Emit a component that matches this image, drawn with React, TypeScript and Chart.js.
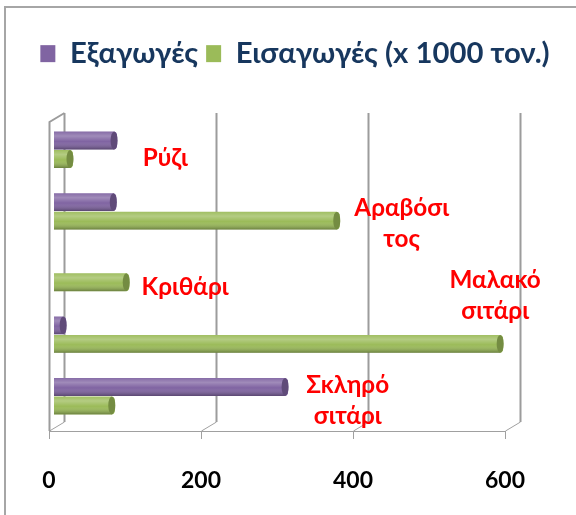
import React, { useEffect, useRef } from "react";
import { Chart, registerables } from "chart.js";

Chart.register(...registerables);

// ---- data ----
const categories = ["Ρύζι", "Αραβόσιτος", "Κριθάρι", "Μαλακό σιτάρι", "Σκληρό σιτάρι"];
const exportsK = [83, 82, 0, 16, 308];
const importsK = [25, 376, 99, 591, 80];
const seriesNames = ["Εξαγωγές", "Εισαγωγές (x 1000 τον.)"];
const xTicks = [0, 200, 400, 600];
// in-plot category captions (text lines), anchored in data space
const captionLines = [["Ρύζι"], ["Αραβόσι", "τος"], ["Κριθάρι"], ["Μαλακό", "σιτάρι"], ["Σκληρό", "σιτάρι"]];
const captionX = [153, 464, 179, 587, 393];
const captionDY = [0.13, 0.2, 0.23, -0.63, 0.07];

const FAMILY = "Lato, 'Open Sans', 'Noto Sans', sans-serif";
const PURPLE = "#8064A2";
const GREEN = "#9BBB59";

function fitSize(text: string, target: number) {
  const c = document.createElement("canvas").getContext("2d")!;
  c.font = `bold 100px ${FAMILY}`;
  return (100 * target) / c.measureText(text).width;
}

export default function App() {
  const ref = useRef<HTMLCanvasElement>(null);

  useEffect(() => {
    document.body.style.margin = "0";
    const legendSize = fitSize(seriesNames[1], 314);
    const tickSize = fitSize("200", 40);
    const capSize = fitSize("Κριθάρι", 87);

    const DX = 15;
    const DY = -9;
    const DEPTH_SHIFT = 5; // bars sit inside the 3D depth

    const frame = {
      id: "frame",
      beforeInit(chart: any) {
        const lg = chart.legend;
        if (lg && !lg.__patched) {
          const orig = lg.fit;
          lg.fit = function () {
            this.maxWidth = 576;
            orig.call(this);
            this.height = 88;
          };
          lg.__patched = true;
        }
      },
      afterLayout(chart: any) {
        const lg = chart.legend;
        if (lg) {
          lg.left = 14;
          lg.right = 576;
          lg.width = 562;
        }
      },
      beforeDraw(chart: any) {
        const ctx = chart.ctx;
        ctx.save();
        ctx.strokeStyle = "#a6a6a6";
        ctx.lineWidth = 2;
        ctx.beginPath();
        ctx.moveTo(5, 515);
        ctx.lineTo(5, 7);
        ctx.lineTo(576, 7);
        ctx.stroke();
        ctx.restore();
      },
      beforeDatasetsDraw(chart: any) {
        const ctx = chart.ctx;
        const xs = chart.scales.x;
        const area = chart.chartArea;
        const floorY = area.bottom + 4;
        const backTop = area.top - 6;
        ctx.save();
        ctx.strokeStyle = "#a0a0a0";
        ctx.lineWidth = 1;
        const x0 = xs.getPixelForValue(xTicks[0]);
        const xN = xs.getPixelForValue(xTicks[xTicks.length - 1]);
        ctx.beginPath();
        ctx.moveTo(x0, floorY + 0.5);
        ctx.lineTo(xN, floorY + 0.5);
        ctx.stroke();
        xTicks.forEach((v) => {
          const px = Math.round(xs.getPixelForValue(v)) + 0.5;
          ctx.lineWidth = 1;
          ctx.strokeStyle = "#a0a0a0";
          ctx.beginPath();
          ctx.moveTo(px, floorY);
          ctx.lineTo(px, floorY + 8);
          ctx.moveTo(px, floorY);
          ctx.lineTo(px + DX, floorY + DY);
          ctx.stroke();
          ctx.lineWidth = 2;
          ctx.strokeStyle = "#9c9c9c";
          ctx.beginPath();
          ctx.moveTo(px + DX, floorY + DY);
          ctx.lineTo(px + DX, backTop);
          ctx.stroke();
          if (v === xTicks[0]) {
            ctx.beginPath();
            ctx.moveTo(px, floorY);
            ctx.lineTo(px, backTop - DY);
            ctx.lineTo(px + DX, backTop);
            ctx.stroke();
          }
        });
        ctx.restore();
        // shift bars into the depth of the 3D box
        ctx.save();
        ctx.translate(DEPTH_SHIFT, 0);
      },
      afterDatasetsDraw(chart: any) {
        const ctx = chart.ctx;
        chart.data.datasets.forEach((ds: any, di: number) => {
          const meta = chart.getDatasetMeta(di);
          meta.data.forEach((el: any) => {
            const { x, y, base, height } = el.getProps(["x", "y", "base", "height"], true);
            if (Math.abs(x - base) < 1) return;
            const top = y - height / 2;
            const g = ctx.createLinearGradient(0, top, 0, top + height);
            g.addColorStop(0, "rgba(255,255,255,0.05)");
            g.addColorStop(0.25, "rgba(255,255,255,0.25)");
            g.addColorStop(0.55, "rgba(255,255,255,0.0)");
            g.addColorStop(1, "rgba(0,0,0,0.32)");
            ctx.save();
            ctx.fillStyle = g;
            ctx.fillRect(base, top, x - base - 3, height);
            ctx.beginPath();
            ctx.ellipse(x - 3, y, 3.5, height / 2, 0, 0, Math.PI * 2);
            ctx.fillStyle = ds.backgroundColor;
            ctx.fill();
            ctx.fillStyle = "rgba(0,0,0,0.25)";
            ctx.fill();
            ctx.restore();
          });
        });
        ctx.restore(); // undo depth shift
        const xs = chart.scales.x;
        const ys = chart.scales.y;
        ctx.save();
        ctx.fillStyle = "#FF0000";
        ctx.font = `bold ${capSize}px ${FAMILY}`;
        ctx.textAlign = "center";
        ctx.textBaseline = "middle";
        const lineH = 31;
        const step = ys.getPixelForValue(1) - ys.getPixelForValue(0);
        captionLines.forEach((lines, i) => {
          const cx = xs.getPixelForValue(captionX[i]);
          const cy = ys.getPixelForValue(i) + captionDY[i] * step;
          lines.forEach((t, k) => {
            ctx.fillText(t, cx, cy + (k - (lines.length - 1) / 2) * lineH);
          });
        });
        ctx.restore();
      },
    };

    const chart = new Chart(ref.current!, {
      type: "bar",
      data: {
        labels: categories,
        datasets: [
          { label: seriesNames[0], data: exportsK, backgroundColor: PURPLE, borderRadius: 4 },
          { label: seriesNames[1], data: importsK, backgroundColor: GREEN, borderRadius: 4 },
        ],
      },
      options: {
        indexAxis: "y",
        responsive: false,
        animation: false,
        devicePixelRatio: 1,
        layout: { padding: { top: 31, left: 49, right: 71, bottom: 0 } },
        datasets: { bar: { categoryPercentage: 0.6, barPercentage: 0.97 } },
        plugins: {
          legend: {
            position: "top",
            labels: {
              boxWidth: 15,
              boxHeight: 17,
              padding: 8,
              color: "#17375E",
              font: { family: FAMILY, weight: "bold", size: legendSize },
            },
          },
          tooltip: { enabled: false },
        },
        scales: {
          y: { display: false },
          x: {
            min: 0,
            max: 600,
            afterBuildTicks: (s: any) => {
              s.ticks = xTicks.map((v) => ({ value: v }));
            },
            afterFit: (s: any) => {
              s.height = 88;
            },
            grid: { display: false, drawTicks: false },
            border: { display: false },
            ticks: {
              color: "#000",
              padding: 40,
              maxRotation: 0,
              font: { family: FAMILY, weight: "bold", size: tickSize },
            },
          },
        },
      },
      plugins: [frame],
    } as any);
    return () => chart.destroy();
  }, []);

  return (
    <div style={{ position: "fixed", left: 0, top: 0, width: 576, height: 515, background: "#fff" }}>
      <canvas ref={ref} width={576} height={515} style={{ display: "block" }} />
    </div>
  );
}
